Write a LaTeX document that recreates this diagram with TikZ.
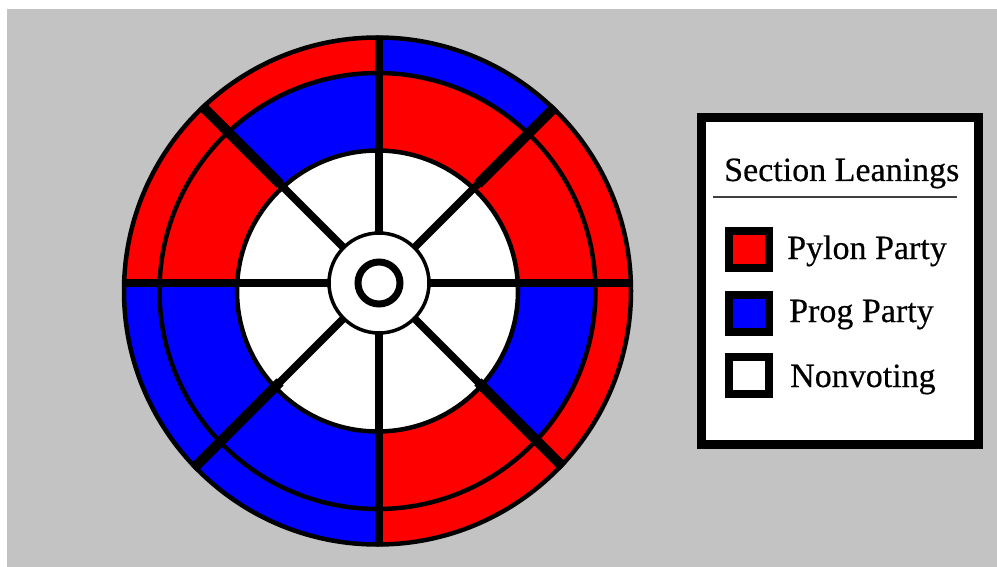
\documentclass[tikz,border=0pt]{standalone}
\usepackage{fontspec}
\setmainfont{Liberation Serif}
\newfontfamily\legfont{Liberation Serif}[FakeBold=0.4]
\definecolor{bg}{HTML}{C3C3C3}
\definecolor{pred}{HTML}{FF0000}
\definecolor{pblue}{HTML}{0000FF}
\begin{document}
\begin{tikzpicture}[x=1pt,y=-1pt,
  swatch/.style={draw=black,line width=8pt,minimum width=40pt,minimum height=37pt,inner sep=0pt},
  legtext/.style={anchor=base west,inner sep=0pt,font=\legfont\fontsize{34}{40}\selectfont}]
\useasboundingbox (0,0) rectangle (997,567);
\fill[white] (0,0) rectangle (997,567);
\fill[bg] (7,9) rectangle (997,567);
\coordinate (C) at (377.5,291);
\coordinate (H) at (379,283);
% sectors (angles measured clockwise on screen)
\foreach \a/\o/\m in {0/pred/pblue,45/pred/pred,90/pblue/pblue,135/pblue/pblue,180/pred/pred,225/pred/pblue,270/pblue/pred,315/pred/pred}{
  \begin{scope}
    \clip (H) -- ++(\a:400) arc[start angle=\a,end angle=\a+45,radius=400] -- cycle;
    \fill[\o] (C) circle[radius=253.5];
    \fill[\m] (C) circle[radius=218];
  \end{scope}
}
\fill[white] (C) circle[radius=140.5];
\draw[line width=4.5pt] (C) circle[radius=253.5];
\draw[line width=4.5pt] (C) circle[radius=218];
\draw[line width=4.5pt] (C) circle[radius=140.5];
\begin{scope}
  \clip (C) circle[radius=255.5];
  \foreach \a in {0,90,180,270} \draw[line width=7.5pt] (H) -- ++(\a:300);
  \foreach \a in {45,135,225,315} {
    \draw[line width=7.5pt] (H) -- ++(\a:300);
    \draw[line width=10pt] (H) ++(\a:140) -- ++(\a:160);
  }
\end{scope}
\draw[line width=3.5pt,fill=white] (H) circle[radius=50];
\draw[line width=7pt] (H) circle[radius=21];
% legend
\draw[line width=9pt,fill=white] (701.5,117.5) rectangle (978.5,444.5);
\node[legtext] (title) at (724,181) {Section Leanings};
\draw[line width=1.6pt,black!75] (713,197) -- (957,197);
\node[swatch,fill=pred] (s1) at (749,249.5) {};
\node[swatch,fill=pblue] (s2) at (749,313) {};
\node[swatch,fill=white] (s3) at (749,375) {};
\node[legtext] (t1) at (787,259) {Pylon Party};
\node[legtext] (t2) at (789,322) {Prog Party};
\node[legtext] (t3) at (790,387) {Nonvoting};
\end{tikzpicture}
\end{document}
